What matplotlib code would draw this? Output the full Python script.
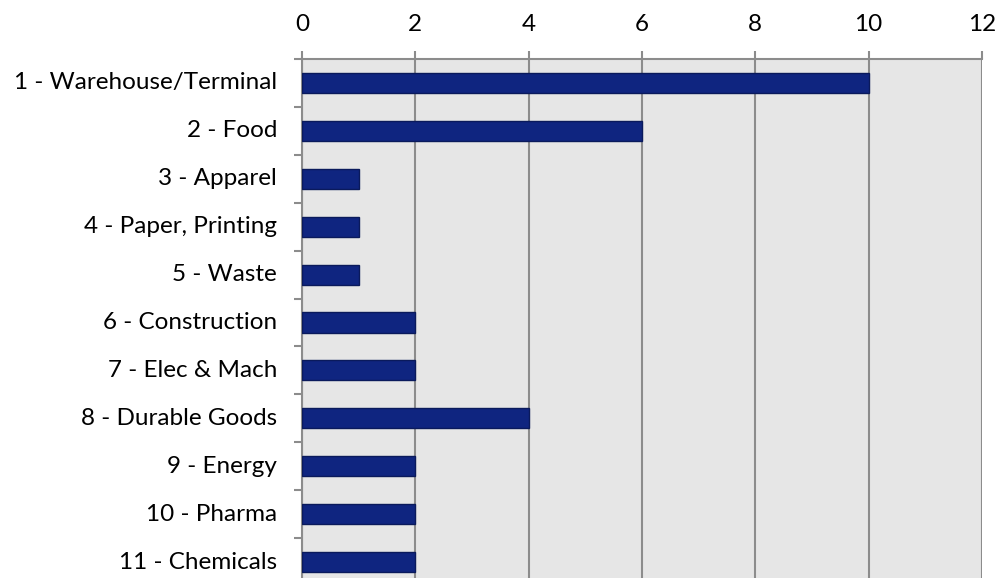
import matplotlib
matplotlib.use("Agg")
import matplotlib.pyplot as plt
import numpy as np

categories = ["1 - Warehouse/Terminal", "2 - Food", "3 - Apparel", "4 - Paper, Printing",
              "5 - Waste", "6 - Construction", "7 - Elec & Mach", "8 - Durable Goods",
              "9 - Energy", "10 - Pharma", "11 - Chemicals"]
values = [10, 6, 1, 1, 1, 2, 2, 4, 2, 2, 2]
xticks = [0, 2, 4, 6, 8, 10, 12]

plt.rcParams['font.family'] = ['Lato', 'DejaVu Sans']

fig = plt.figure(figsize=(10.01, 5.78), dpi=100)
ax = fig.add_axes([302/1001, (578-586)/578, 680/1001, (586-59)/578])
ax.set_facecolor('#e6e6e6')

y = np.arange(len(categories))
ax.barh(y, values, height=0.42, color='#0f2580', edgecolor='#0a1a5c', linewidth=1.0, zorder=3)

ax.set_xlim(0, 12)
ax.set_ylim(len(categories) - 0.5, -0.5)
ax.xaxis.tick_top()
ax.set_xticks(xticks)
ax.set_xticklabels([str(t) for t in xticks], fontsize=17.5)
ax.tick_params(axis='x', which='major', length=6, width=1.5, color='#8c8c8c', pad=11)
ax.grid(axis='x', color='#8c8c8c', linewidth=1.5, zorder=1)

ax.set_yticks(y)
ax.set_yticklabels(categories, fontsize=17.5, va='center')
ax.set_yticks(np.arange(len(categories) + 1) - 0.5, minor=True)
ax.tick_params(axis='y', which='major', length=0, pad=18)
ax.tick_params(axis='y', which='minor', length=6, width=1.5, color='#8c8c8c')

for s in ['right', 'bottom']:
    ax.spines[s].set_visible(False)
for s in ['top', 'left']:
    ax.spines[s].set_color('#8c8c8c')
    ax.spines[s].set_linewidth(1.5)

fig.savefig('out.png', dpi=100)
